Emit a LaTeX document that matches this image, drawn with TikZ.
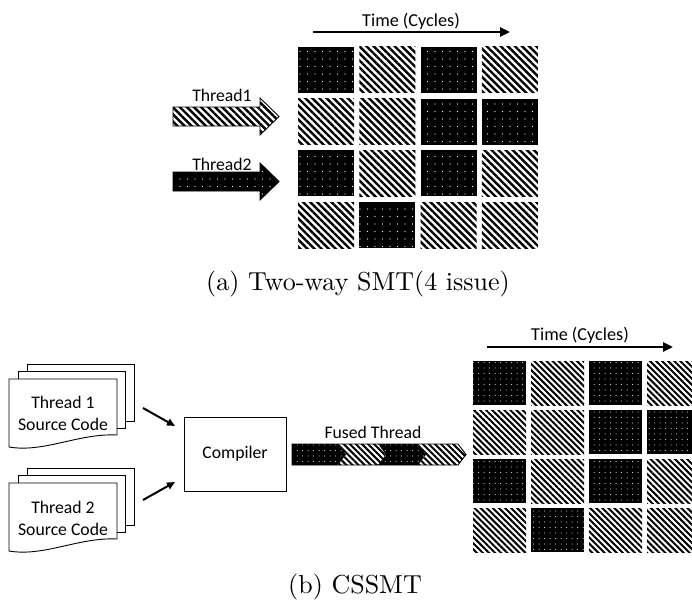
\documentclass[tikz,border=0pt]{standalone}
\usepackage{fontspec}
\newfontfamily\labelfont{Carlito}
\newfontfamily\capfont{lmroman10-regular}[Extension=.otf]
\usetikzlibrary{patterns.meta,arrows.meta}

\tikzset{
  lbl/.style={font=\labelfont\fontsize{17.7}{22}\selectfont, inner sep=0pt, anchor=base},
  timelbl/.style={lbl, font=\labelfont\fontsize{18.2}{22}\selectfont},
  captext/.style={font=\capfont\fontsize{26}{30}\selectfont, inner sep=0pt, anchor=base},
  dotcell/.style={fill=black, postaction={pattern={Dots[distance=7.5pt,radius=0.6pt]}, pattern color=white}},
  hatchcell/.style={pattern={Lines[angle=-45,distance=5pt,line width=2.4pt]}, pattern color=black},
  smalldot/.style={fill=black, postaction={pattern={Dots[distance=5.5pt,radius=0.5pt]}, pattern color=white}},
  smallhatch/.style={pattern={Lines[angle=-45,distance=4.3pt,line width=2pt]}, pattern color=black},
  topcell/.style={inner sep=0pt, minimum width=56pt, minimum height=46pt},
  botcell/.style={inner sep=0pt, minimum width=53pt, minimum height=44pt},
  timeline/.style={line width=2.5pt, -{Triangle[length=10pt,width=9pt]}},
  feed/.style={line width=2pt, -{Triangle[length=8pt,width=7pt]}},
  outline/.style={line width=0.9pt},
  % stacked source-code pages, origin at the front page's top-left corner
  srcpages/.pic={
    \draw[outline, fill=white] (18,-15) rectangle (125,42);
    \draw[outline, fill=white] (9,-8) rectangle (116,49);
    \draw[outline, fill=white] (0,0) -- (108,0) -- (108,56)
      .. controls (70,54) and (35,74) .. (0,68) -- cycle;
  },
}

\begin{document}
\begin{tikzpicture}[x=1pt,y=-1pt]
\useasboundingbox (0,0) rectangle (692,599);
\clip (0,0) rectangle (692,599);

% ---------- (a) two-way SMT ----------
\node[timelbl] (timeA) at (411,27) {Time (Cycles)};
\coordinate (tAs) at (313,32);
\coordinate (tAe) at (510,32);
\draw[timeline] (tAs) -- (tAe);

\foreach \r/\c/\s in {0/0/dotcell,0/1/hatchcell,0/2/dotcell,0/3/hatchcell,
                      1/0/hatchcell,1/1/hatchcell,1/2/dotcell,1/3/dotcell,
                      2/0/dotcell,2/1/hatchcell,2/2/dotcell,2/3/hatchcell,
                      3/0/hatchcell,3/1/dotcell,3/2/hatchcell,3/3/hatchcell}
  \node[topcell,\s] (smt-\r-\c) at ({326+61.3*\c},{70+51.7*\r}) {};

\draw[outline, hatchcell] (173,107) -- (260,107) -- (260,98) -- (279,116.5)
  -- (260,135) -- (260,126) -- (173,126) -- cycle;
\node[lbl] (thr1) at (222,102) {Thread1};

\draw[outline, dotcell] (173,172) -- (260,172) -- (260,163) -- (279,181.5)
  -- (260,200) -- (260,191) -- (173,191) -- cycle;
\node[lbl] (thr2) at (222,170) {Thread2};

\node[captext] (capA) at (358,290) {(a) Two-way SMT(4 issue)};

% ---------- (b) CSSMT ----------
\pic at (9,379) {srcpages};
\node[lbl, align=center] (src1) at (63,430) {Thread 1\\Source Code};
\pic at (9,483) {srcpages};
\node[lbl, align=center] (src2) at (63,535) {Thread 2\\Source Code};

\node[draw, outline, minimum width=102pt, minimum height=74pt, inner sep=0pt,
      font=\labelfont\fontsize{17.7}{22}\selectfont] (comp) at (235,454) {Compiler};

\coordinate (f1s) at (143,408);
\coordinate (f1e) at (175,426);
\coordinate (f2s) at (143,500);
\coordinate (f2e) at (175,482);
\draw[feed] (f1s) -- (f1e);
\draw[feed] (f2s) -- (f2e);

% fused thread: alternating chevron segments
\path[smalldot] (292,444) -- (338,444) -- (346,454.5) -- (338,465) -- (292,465) -- cycle;
\path[smallhatch] (338,444) -- (378,444) -- (386,454.5) -- (378,465) -- (338,465) -- (346,454.5) -- cycle;
\path[smalldot] (378,444) -- (418,444) -- (426,454.5) -- (418,465) -- (378,465) -- (386,454.5) -- cycle;
\path[smallhatch] (418,444) -- (458,444) -- (466,454.5) -- (458,465) -- (418,465) -- (426,454.5) -- cycle;
\draw[outline] (292,444) -- (458,444) -- (466,454.5) -- (458,465) -- (292,465) -- cycle;
\node[lbl] (fused) at (373,438) {Fused Thread};

\node[timelbl] (timeB) at (580,340) {Time (Cycles)};
\coordinate (tBs) at (487,347);
\coordinate (tBe) at (673,347);
\draw[timeline] (tBs) -- (tBe);

\foreach \r/\c/\s in {0/0/smalldot,0/1/smallhatch,0/2/smalldot,0/3/smallhatch,
                      1/0/smallhatch,1/1/smallhatch,1/2/smalldot,1/3/smalldot,
                      2/0/smalldot,2/1/smallhatch,2/2/smalldot,2/3/smallhatch,
                      3/0/smallhatch,3/1/smalldot,3/2/smallhatch,3/3/smallhatch}
  \node[botcell,\s] (cs-\r-\c) at ({499.5+58*\c},{383+49*\r}) {};

\node[captext] (capB) at (355,593) {(b) CSSMT};
\end{tikzpicture}
\end{document}
